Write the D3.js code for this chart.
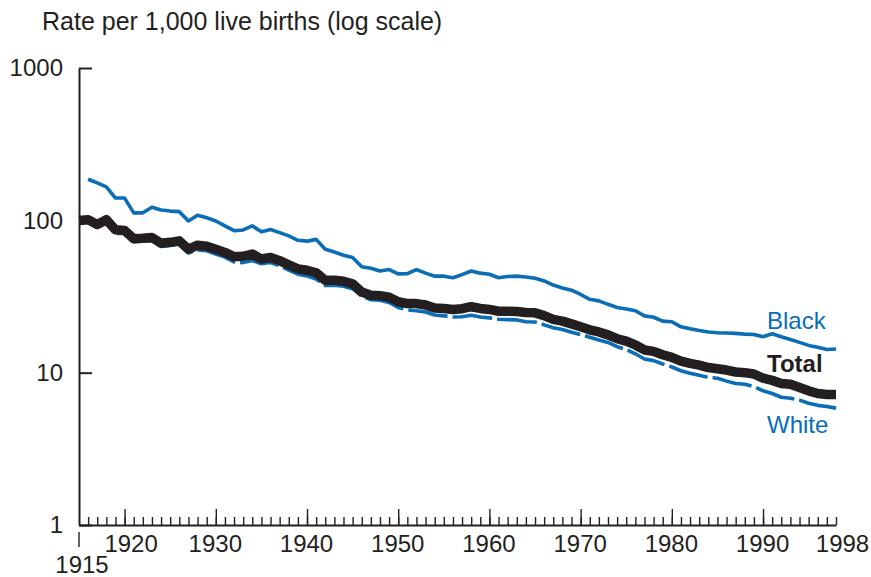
<!DOCTYPE html>
<html>
<head>
<meta charset="utf-8">
<script src="https://cdn.jsdelivr.net/npm/d3@7"></script>
<style>
  html, body { margin: 0; padding: 0; background: #fff; }
  svg { display: block; font-family: "Liberation Sans", Arial, sans-serif; }
</style>
</head>
<body>
<svg id="chart" width="871" height="577"></svg>
<script>
// ---- data (rates per 1,000 live births), years 1915..1998 ----
const startYear = 1915;
const endYear = 1998;
const totalRate = [99.9,101.0,93.8,100.9,86.6,85.8,75.6,76.2,77.1,70.8,
  71.7,73.3,64.6,68.7,67.6,64.6,61.6,57.6,58.1,60.1,
  55.7,57.1,54.4,51.0,48.0,47.0,45.3,40.4,40.4,39.8,
  38.3,33.8,32.2,32.0,31.3,29.2,28.4,28.4,27.8,26.6,
  26.4,26.0,26.3,27.1,26.4,26.0,25.3,25.3,25.2,24.8,
  24.7,23.7,22.4,21.8,20.9,20.0,19.1,18.5,17.7,16.7,
  16.1,15.2,14.1,13.8,13.1,12.6,11.9,11.5,11.2,10.8,
  10.6,10.4,10.1,10.0,9.8,9.2,8.9,8.5,8.4,8.0,
  7.6,7.3,7.2,7.2];
const blackRate = [null,186,176,166,140,140,112,112,122,117,
  115,114,99,108,104,99,92,85.5,86.5,92,
  84,87,83,79,74,73,75,64.6,62,59,
  57,49.6,48.5,46.5,47.5,44.5,44.7,47.5,45,43,
  43,42,44,46.5,45,44.3,42,42.8,43,42.5,
  41.7,40,37.6,36,34.8,32.6,30.3,29.6,28.1,26.8,
  26.2,25.5,23.6,23.1,21.8,21.6,20.0,19.4,18.9,18.5,
  18.3,18.2,18.1,17.9,17.8,17.2,18.0,17.2,16.5,15.8,
  15.1,14.7,14.2,14.3];
const whiteRate = [98.6,99.0,91.5,96.8,82.1,82.1,72.5,73.2,73.5,67.3,
  68.3,70.0,61.0,64.0,63.2,60.1,57.4,53.3,52.8,54.5,
  51.9,52.9,50.3,47.1,44.3,43.2,41.2,37.3,37.5,36.9,
  35.6,31.8,30.1,29.9,28.9,26.8,25.8,25.5,25.0,23.9,
  23.6,23.2,23.3,23.8,23.2,22.9,22.4,22.3,22.2,21.6,
  21.5,20.6,19.7,19.2,18.4,17.8,17.1,16.4,15.8,14.8,
  14.2,13.3,12.3,12.0,11.4,10.9,10.3,9.9,9.6,9.3,
  9.2,8.8,8.5,8.4,8.1,7.6,7.3,6.9,6.8,6.6,
  6.3,6.1,6.0,5.85];
const yTickValues = [1, 10, 100, 1000];
const xLabelYears = [1920, 1930, 1940, 1950, 1960, 1970, 1980, 1990, 1998];
const seriesLabels = ["Black", "Total", "White"];
const titleText = "Rate per 1,000 live births (log scale)";

// ---- layout ----
const blue = "#0a6db6";
const ink = "#231f20";
const mLeft = 79, mRight = 836, mTop = 68, mBottom = 525;

const svg = d3.select("#chart");
const x = d3.scaleLinear().domain([startYear, endYear]).range([mLeft, mRight]);
const y = d3.scaleLog().domain([1, 1000]).range([mBottom, mTop]);

const years = d3.range(startYear, endYear + 1);
const toPts = arr => years.map((yr, i) => ({ yr, v: arr[i] })).filter(d => d.v != null);

const line = d3.line().x(d => x(d.yr)).y(d => y(d.v));

// title
svg.append("text").attr("x", 42).attr("y", 30)
  .attr("font-size", 25).attr("fill", ink).text(titleText);

// y axis
const yAxis = d3.axisLeft(y).tickValues(yTickValues).tickFormat(d3.format("d"))
  .tickSize(-13).tickSizeOuter(0).tickPadding(16);
const gy = svg.append("g").attr("transform", `translate(${mLeft},0)`).call(yAxis);
gy.select(".domain").attr("stroke", ink).attr("stroke-width", 2);
gy.selectAll(".tick line").attr("stroke", ink).attr("stroke-width", 2);
gy.selectAll(".tick text").attr("font-size", 24).attr("fill", ink)
  .attr("font-family", "Liberation Sans, Arial, sans-serif");

// x axis: minor (every year) and major (decades) ticks pointing up
const minorAxis = d3.axisTop(x).tickValues(years.slice(1)).tickFormat("").tickSize(8).tickSizeOuter(0);
const gxm = svg.append("g").attr("transform", `translate(0,${mBottom})`).call(minorAxis);
gxm.select(".domain").attr("stroke", ink).attr("stroke-width", 2);
gxm.selectAll(".tick line").attr("stroke", ink).attr("stroke-width", 1.4);

const majorAxis = d3.axisTop(x).tickValues(xLabelYears.filter(v => v % 10 === 0)).tickFormat("").tickSize(16).tickSizeOuter(0);
const gxM = svg.append("g").attr("transform", `translate(0,${mBottom})`).call(majorAxis);
gxM.select(".domain").remove();
gxM.selectAll(".tick line").attr("stroke", ink).attr("stroke-width", 1.4);

// x labels
const labAxis = d3.axisBottom(x).tickValues(xLabelYears).tickFormat(d3.format("d"))
  .tickSize(0).tickSizeOuter(0).tickPadding(10);
const gxl = svg.append("g").attr("transform", `translate(0,${mBottom})`).call(labAxis);
gxl.select(".domain").remove();
gxl.selectAll(".tick text").attr("font-size", 24).attr("fill", ink)
  .attr("font-family", "Liberation Sans, Arial, sans-serif")
  .attr("dy", "0.71em")
  .attr("dx", d => (d === 1920 || d === 1998) ? 6 : -1);

// 1915 marker + label
svg.append("line").attr("x1", x(startYear)).attr("x2", x(startYear))
  .attr("y1", 532).attr("y2", 547).attr("stroke", ink).attr("stroke-width", 1.4);
svg.append("text").attr("x", x(startYear) + 3).attr("y", 573).attr("text-anchor", "middle")
  .attr("font-size", 24).attr("fill", ink).text(startYear);

// lines
svg.append("path").datum(toPts(whiteRate)).attr("d", line)
  .attr("fill", "none").attr("stroke", blue).attr("stroke-width", 3.6)
  .attr("stroke-dasharray", "40,5").attr("stroke-linejoin", "round");
svg.append("path").datum(toPts(blackRate)).attr("d", line)
  .attr("fill", "none").attr("stroke", blue).attr("stroke-width", 3.6)
  .attr("stroke-linejoin", "round");
svg.append("path").datum(toPts(totalRate)).attr("d", line)
  .attr("fill", "none").attr("stroke", ink).attr("stroke-width", 9.5)
  .attr("stroke-linejoin", "round");

// series labels
svg.append("text").attr("x", 767).attr("y", 329).attr("font-size", 24)
  .attr("fill", blue).text(seriesLabels[0]);
svg.append("text").attr("x", 767).attr("y", 372).attr("font-size", 24)
  .attr("font-weight", "bold").attr("fill", ink).text(seriesLabels[1]);
svg.append("text").attr("x", 767).attr("y", 433).attr("font-size", 24)
  .attr("fill", blue).text(seriesLabels[2]);
</script>
</body>
</html>
